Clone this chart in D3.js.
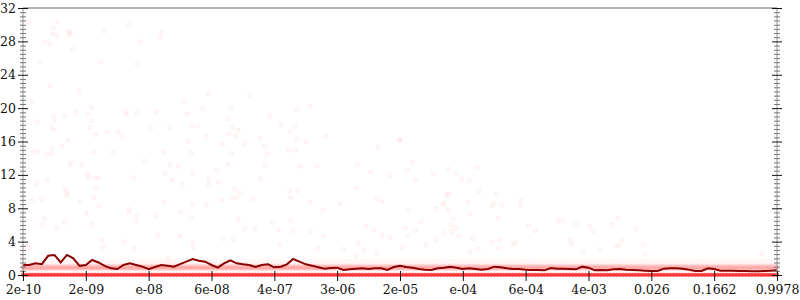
<!DOCTYPE html>
<html><head><meta charset="utf-8">
<script src="https://cdn.jsdelivr.net/npm/d3@7"></script>
<style>body{margin:0;background:#fff}svg{display:block}</style>
</head><body><svg id="c" width="800" height="300"></svg>
<script>
// ---- data ----
const xTickLabels = ["2e-10","2e-09","e-08","6e-08","4e-07","3e-06","2e-05","e-04","6e-04","4e-03","0.026","0.1662","0.9978"];
const yTicks = [0,4,8,12,16,20,24,28,32];
// running mean (dark red line), one value per position index 0..120
const lineValues = [
1.2,1.2,1.4,1.3,2.3,2.4,1.5,2.4,2.0,1.1,
1.2,1.8,1.5,1.1,0.8,0.72,1.2,1.4,1.2,1.0,
0.7,0.95,1.2,1.1,1.0,1.3,1.6,1.9,1.7,1.6,
1.2,0.88,1.4,1.76,1.4,1.28,1.2,0.96,1.2,1.28,
0.92,1.0,1.28,1.92,1.6,1.28,1.12,0.92,0.76,0.84,
0.88,0.6,0.68,0.76,0.8,0.72,0.8,0.8,0.6,0.96,
1.12,0.96,0.88,0.72,0.64,0.6,0.8,0.88,1.0,0.88,
0.72,0.8,0.72,0.64,0.72,1.0,0.92,0.8,0.72,0.72,
0.64,0.6,0.6,0.56,0.84,0.76,0.76,0.72,0.68,1.0,
0.88,0.56,0.6,0.56,0.68,0.72,0.64,0.6,0.56,0.52,
0.48,0.48,0.76,0.8,0.8,0.76,0.64,0.48,0.48,0.8,
0.72,0.52,0.52,0.52,0.48,0.48,0.44,0.44,0.48,0.52,
0.56];
// scattered individual observations: position index, value
const scatterIdx = [
1.0,5.5,4.8,4.7,5.4,7.2,7.6,7.4,12.9,16.8,22.1,21.8,18.6,3.5,4.3,7.9,2.7,12.4,18.1,4.3,8.9,1.4,25.6,10.9,4.8,5.0,6.7,8.4,10.3,10.9,16.4,16.4,18.1,21.3,26.1,2.3,4.6,4.9,10.6,11.5,13.4,15.2,15.8,20.4,23.3,26.9,27.9,7.2,6.2,4.6,26.3,
1.6,2.3,3.8,4.6,7.7,7.5,9.3,11.2,14.3,19.3,22.3,24.7,26.7,23.4,22.6,10.2,10.4,11.5,12.1,17.6,23.7,27.0,25.4,2.2,3.9,6.7,7.0,7.0,11.6,11.3,1.5,3.0,9.1,12.1,16.8,16.9,18.1,18.0,22.4,25.1,27.0,21.2,10.0,3.4,3.1,5.4,6.7,10.9,26.7,21.4,16.0,12.5,12.8,17.7,25.0,27.0,27.1,0.9,1.1,23.1,
33.2,38.9,42.2,43.3,44.1,46.8,53.2,38.5,32.7,30.9,29.6,29.5,31.1,33.7,34.6,34.0,33.2,31.6,36.6,37.8,42.4,42.6,43.7,47.8,45.7,50.5,53.1,55.3,56.3,57.1,58.4,29.2,34.3,35.3,36.9,39.7,42.6,40.6,43.0,31.9,33.5,40.9,45.8,47.0,47.8,51.0,53.1,53.4,54.2,56.3,54.6,55.8,57.1,58.4,
29.5,36.0,28.6,33.1,39.2,43.6,45.7,32.6,33.3,34.3,41.1,43.3,42.5,32.8,33.9,29.2,37.7,43.6,45.0,48.2,31.6,35.3,38.5,56.5,59.9,60.0,
62.0,61.1,65.3,67.7,68.9,69.8,71.0,72.3,62.5,72.6,75.3,67.4,67.8,67.0,66.8,65.7,67.7,70.9,74.6,75.0,76.3,79.2,79.2,71.1,75.6,61.3,63.3,68.5,68.2,68.2,68.9,62.4,60.8,61.3,65.6,66.9,69.4,71.6,74.6,75.8,78.4,78.0,80.5,81.5,85.1,85.9,88.0,90.2,87.1,87.3,90.7,60.3,64.1,72.5,75.6,89.1,71.1,
94.7,93.7,97.6,95.4,94.9,94.4,98.7,91.8,99.0,117.6];
const scatterVal = [
30.3,30.3,29.6,28.9,28.7,29.2,29.1,28.8,29.2,30.0,29.1,28.5,28.0,27.9,27.7,27.1,25.5,25.5,25.3,22.7,22.1,20.8,20.8,20.1,19.1,18.5,19.0,19.4,19.3,18.5,19.6,19.2,19.5,19.6,19.3,18.4,17.7,17.4,17.7,16.8,17.1,17.1,16.5,17.6,17.7,17.9,17.9,16.1,15.4,15.1,16.0,
14.7,14.8,14.5,14.5,13.6,13.2,13.2,14.7,14.7,13.7,14.8,13.0,14.6,13.2,12.2,12.1,11.7,11.6,11.6,11.7,11.4,12.2,10.8,11.0,11.3,10.3,9.9,9.5,10.5,9.3,8.9,9.1,8.8,8.3,7.9,7.5,7.2,6.5,8.7,7.6,8.4,7.2,7.4,6.8,6.0,5.7,6.3,6.0,6.9,4.8,4.0,4.2,3.3,3.1,4.7,3.9,3.3,3.7,3.2,2.0,
14.6,14.5,15.0,14.9,13.0,13.1,13.2,13.1,13.2,12.6,11.4,10.8,11.1,10.3,9.8,9.3,9.2,9.0,9.1,11.5,10.1,9.3,10.1,7.8,8.7,8.6,10.4,12.3,9.1,8.8,12.0,8.4,6.7,5.5,5.5,6.3,6.5,5.4,5.3,4.3,4.3,3.6,5.2,3.1,4.7,3.1,2.3,3.8,3.0,2.6,5.9,5.4,4.8,4.5,
21.7,21.5,19.9,20.0,19.1,19.8,20.2,18.7,17.7,17.4,18.0,17.7,17.2,16.9,16.7,16.6,16.4,16.3,16.0,16.6,15.7,15.8,15.5,15.3,16.2,16.2,
13.5,12.6,12.1,12.7,12.2,11.5,11.3,12.9,11.4,10.0,9.7,9.6,9.7,8.7,8.4,7.9,7.8,8.7,8.3,8.6,8.4,8.9,8.3,7.3,6.8,7.7,6.4,6.7,6.0,5.2,5.6,5.3,5.6,4.7,4.3,5.0,4.7,4.4,4.0,4.2,4.0,3.6,5.9,5.3,6.5,6.5,6.1,5.9,4.2,3.7,5.2,3.3,3.6,3.1,3.2,2.8,2.8,
6.8,6.0,5.5,4.2,3.6,3.4,3.6,3.1,2.4,2.5];
// dense bands of overlapping observations: level value and relative density
const bandValues  = [0, 0.05, 0.65, 0.8, 0.95, 1.1, 1.35, 1.75];
const bandDensity = [9, 4, 1.0, 1.4, 1.4, 1.0, 0.4, 0.25];

// ---- chart ----
const svg = d3.select("#c");
const L = 23, R = 777, T = 8, B = 275;
const x = d3.scaleLinear().domain([0, 120]).range([L, R]);
const y = d3.scaleLinear().domain([0, 32]).range([B, T]);
const font = "DejaVu Serif";

// top border
svg.append("line").attr("x1", L).attr("x2", R).attr("y1", T).attr("y2", T)
  .attr("stroke", "#b3b3b3").attr("stroke-width", 2);

const gPts = svg.append("g");
// band points
const bandPos = d3.range(0, 120.01, 0.5);
bandValues.forEach((v, k) => {
  const a = 1 - Math.pow(1 - 0.1, bandDensity[k]);
  gPts.append("g").selectAll("circle").data(bandPos).join("circle")
    .attr("cx", d => x(d)).attr("cy", y(v)).attr("r", 2)
    .attr("fill", "#ff0000").attr("fill-opacity", a);
});
// scattered points
gPts.append("g").selectAll("circle").data(scatterIdx).join("circle")
  .attr("cx", d => x(d)).attr("cy", (d, i) => y(scatterVal[i])).attr("r", 2)
  .attr("fill", "#ff0000").attr("fill-opacity", 0.025)
  .attr("stroke", "#ff0000").attr("stroke-opacity", 0.06).attr("stroke-width", 1);

// running mean line
svg.append("path").datum(lineValues)
  .attr("d", d3.line().x((d, i) => x(i)).y(d => y(d)))
  .attr("fill", "none").attr("stroke", "#8b0000").attr("stroke-width", 2);

// axes
function styleAxis(g, minor) {
  g.select(".domain").remove();
  g.selectAll("line").attr("stroke", minor ? "#777" : "#111").attr("stroke-width", 1);
  g.selectAll("text").attr("font-family", font).attr("font-size", 12.5).attr("fill", "#111");
}
const minorVals = d3.range(0, 32.01, 0.5).filter(v => v % 4 !== 0);
[[L, d3.axisLeft, true], [R, d3.axisRight, false]].forEach(([px, ax, lab]) => {
  svg.append("line").attr("x1", px).attr("x2", px).attr("y1", T).attr("y2", B)
    .attr("stroke", "#999").attr("stroke-width", 1);
  const gm = svg.append("g").attr("transform", `translate(${px},0)`)
    .call(ax(y).tickValues(minorVals).tickSize(3).tickFormat(""));
  styleAxis(gm, true);
  gm.selectAll("line").attr("x1", px === L ? 3 : -3);
  const g = svg.append("g").attr("transform", `translate(${px},0)`)
    .call(ax(y).tickValues(yTicks).tickSize(5).tickPadding(lab ? 2 : 0)
      .tickFormat(lab ? d3.format("d") : ""));
  styleAxis(g, false);
  g.selectAll("line").attr("x1", px === L ? 5 : -5);
});
const gx = svg.append("g").attr("transform", `translate(0,${B})`)
  .call(d3.axisBottom(x).tickValues(d3.range(0, 121, 10)).tickSize(6).tickPadding(4)
    .tickFormat((d, i) => xTickLabels[i]));
styleAxis(gx, false);
gx.selectAll("line").attr("y1", -4);
</script></body></html>
